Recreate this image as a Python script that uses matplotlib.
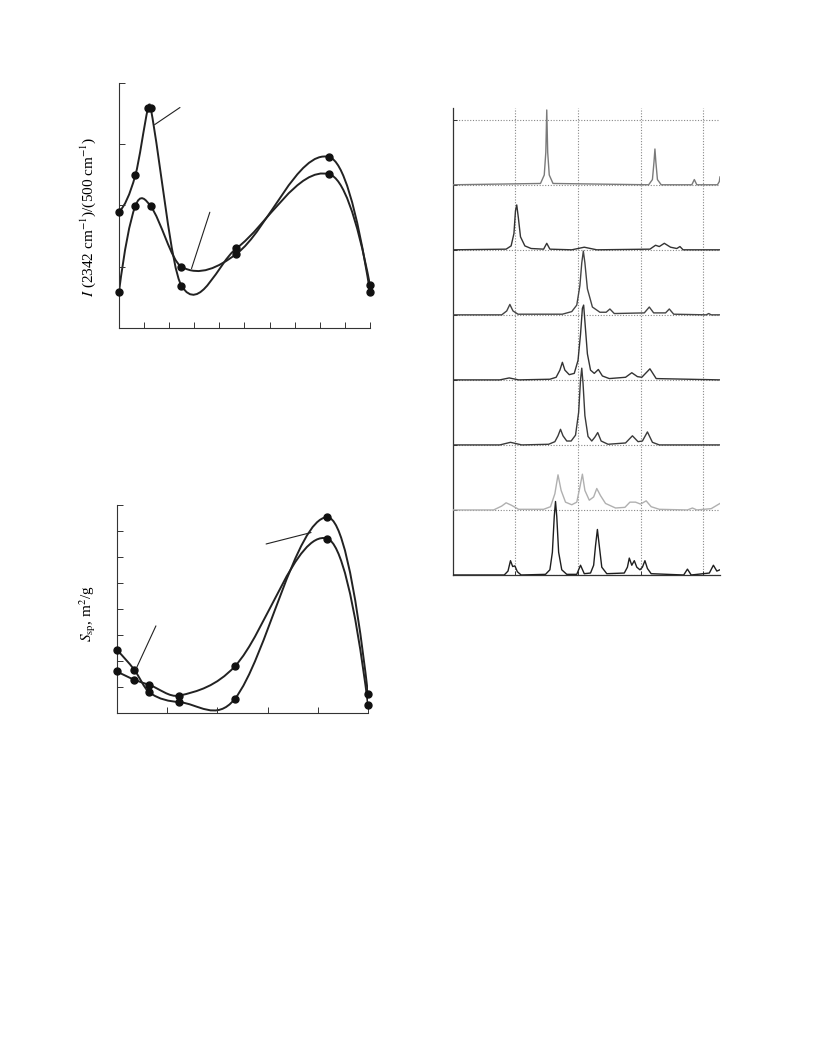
import matplotlib
matplotlib.use("Agg")
import matplotlib.pyplot as plt
import numpy as np
from matplotlib.path import Path
from matplotlib.patches import PathPatch

plt.rcParams["font.family"] = ["Liberation Serif", "DejaVu Serif"]
plt.rcParams["mathtext.fontset"] = "stix"

# ---- top-left panel: I(2342)/I(500) ----
top_x_a = [0, 0.65, 1.16, 1.26, 2.49, 4.68, 8.38, 10]
top_y_a = [1.90, 2.49, 3.60, 3.60, 0.69, 1.30, 2.51, 0.70]
top_x_b = [0, 0.65, 1.26, 2.49, 4.68, 8.38, 10]
top_y_b = [0.59, 1.99, 1.99, 1.00, 1.21, 2.79, 0.59]

# ---- bottom-left panel: S_sp ----
bot_x_c = [0, 0.69, 1.29, 2.48, 4.69, 8.37, 10]
bot_y_c = [2.41, 1.66, 0.79, 0.42, 0.54, 7.53, 0.72]
bot_x_d = [0, 0.69, 1.29, 2.48, 4.69, 8.37, 10]
bot_y_d = [1.60, 1.28, 1.08, 0.67, 1.79, 6.71, 0.32]

# ---- right panel: stacked diffraction patterns (bottom -> top) ----
spec0_x = [10, 18.2, 18.8, 19.2, 19.55, 19.9, 20.3, 20.9, 24.8, 25.5, 25.9, 26.2, 26.4, 26.6,
           26.9, 27.4, 28.2, 29.8, 30.4, 31.0, 32.0, 32.5, 32.8, 33.1, 33.4, 33.8, 34.6, 37.4,
           37.9, 38.2, 38.6, 39.0, 39.4, 39.9, 40.3, 40.7, 41.1, 41.7, 46.9, 47.5, 48.1, 51.0,
           51.65, 52.2, 52.7]
spec0_y = [0, 0, 0.06, 0.22, 0.13, 0.14, 0.05, 0, 0.01, 0.08, 0.35, 0.9, 1.13, 0.9,
           0.35, 0.08, 0.01, 0.01, 0.15, 0.02, 0.03, 0.15, 0.45, 0.70, 0.45, 0.12, 0.02, 0.03,
           0.12, 0.26, 0.15, 0.22, 0.12, 0.08, 0.12, 0.22, 0.1, 0.02, 0, 0.09, 0, 0.03,
           0.15, 0.06, 0.08]
spec1_x = [10, 16.5, 17.8, 18.5, 19.4, 20.5, 24.5, 25.6, 26.3, 26.8, 27.3, 28.0, 29.0, 29.8,
           30.3, 30.7, 31.1, 31.8, 32.5, 33.0, 33.6, 34.4, 36, 37.5, 38.3, 39.2, 40.0, 40.9,
           41.7, 43, 47.5, 48.3, 49, 51.3, 52.0, 52.7]
spec1_y = [0, 0, 0.06, 0.11, 0.07, 0.01, 0.01, 0.05, 0.25, 0.54, 0.3, 0.12, 0.08, 0.12,
           0.35, 0.55, 0.3, 0.15, 0.2, 0.33, 0.22, 0.1, 0.03, 0.04, 0.12, 0.12, 0.09, 0.14,
           0.05, 0.01, 0, 0.03, 0, 0.02, 0.06, 0.10]
spec2_x = [10, 17.5, 19.2, 21, 25.3, 26.3, 26.8, 27.2, 27.6, 28.2, 28.9, 29.6, 30.1, 30.4,
           30.6, 30.8, 31.1, 31.6, 32.2, 32.7, 33.15, 33.7, 34.8, 37.6, 38.7, 39.6, 40.3, 41.1,
           41.9, 43, 52.7]
spec2_y = [0, 0, 0.04, 0, 0.01, 0.05, 0.14, 0.24, 0.14, 0.06, 0.06, 0.15, 0.5, 1.0,
           1.18, 0.95, 0.45, 0.13, 0.06, 0.12, 0.19, 0.06, 0.01, 0.03, 0.14, 0.05, 0.06, 0.20,
           0.04, 0, 0]
spec3_x = [10, 17.5, 19.0, 20.5, 25.5, 26.5, 27.1, 27.5, 27.9, 28.6, 29.4, 30.0, 30.4, 30.7,
           30.9, 31.1, 31.5, 32.0, 32.6, 33.25, 33.9, 35, 37.6, 38.6, 39.5, 40.2, 41.5, 42.5, 52.7]
spec3_y = [0, 0, 0.03, 0, 0.01, 0.04, 0.15, 0.27, 0.15, 0.08, 0.1, 0.3, 0.7, 1.1,
           1.15, 0.9, 0.4, 0.15, 0.1, 0.16, 0.06, 0.02, 0.04, 0.11, 0.05, 0.04, 0.17, 0.02, 0]
spec4_x = [10, 17.8, 18.6, 19.1, 19.6, 20.4, 27.5, 29.0, 29.8, 30.3, 30.6, 30.85, 31.1, 31.5,
           32.3, 33.5, 34.5, 35.1, 35.8, 40.6, 41.4, 42.1, 44.0, 44.6, 45.3, 50.5, 50.9, 51.3, 52.7]
spec4_y = [0, 0, 0.06, 0.16, 0.06, 0.01, 0.01, 0.05, 0.15, 0.45, 0.8, 0.98, 0.8, 0.4,
           0.12, 0.04, 0.04, 0.09, 0.02, 0.03, 0.12, 0.03, 0.03, 0.09, 0.01, 0, 0.02, 0, 0]
spec5_x = [10, 18.5, 19.3, 19.75, 20.0, 20.2, 20.45, 20.8, 21.5, 22.5, 24.5, 25.0, 25.5, 29,
           31, 33, 41.5, 42.4, 43.0, 43.8, 44.8, 45.8, 46.3, 46.8, 52.7]
spec5_y = [0, 0.01, 0.06, 0.25, 0.6, 0.69, 0.5, 0.2, 0.06, 0.02, 0.01, 0.10, 0.01, 0.0,
           0.04, 0.0, 0.01, 0.07, 0.05, 0.10, 0.04, 0.02, 0.05, 0.0, 0.0]
spec6_x = [10, 24.0, 24.6, 24.85, 25.0, 25.15, 25.4, 26.0, 41.3, 41.9, 42.15, 42.3, 42.45,
           42.7, 43.3, 48.2, 48.6, 49.0, 52.3, 52.6, 52.7]
spec6_y = [0, 0.02, 0.15, 0.5, 1.15, 0.5, 0.15, 0.02, 0, 0.08, 0.35, 0.55, 0.35,
           0.08, 0, 0, 0.08, 0, 0, 0.05, 0.12]

spectra = [(spec0_x, spec0_y, "#1e1e1e"), (spec1_x, spec1_y, "#b0b0b0"),
           (spec2_x, spec2_y, "#3a3a3a"), (spec3_x, spec3_y, "#333333"),
           (spec4_x, spec4_y, "#444444"), (spec5_x, spec5_y, "#333333"),
           (spec6_x, spec6_y, "#7a7a7a")]


def smooth_path(xs, ys):
    # cubic bezier through the points, slopes taken from the neighbours
    x = np.asarray(xs, float)
    y = np.asarray(ys, float)
    n = len(x)
    m = np.zeros(n)
    for i in range(1, n - 1):
        m[i] = (y[i + 1] - y[i - 1]) / (x[i + 1] - x[i - 1])
    m[0] = 2 * (y[1] - y[0]) / (x[1] - x[0]) - m[1]
    m[-1] = 2 * (y[-1] - y[-2]) / (x[-1] - x[-2]) - m[-2]
    verts = [(x[0], y[0])]
    codes = [Path.MOVETO]
    for i in range(n - 1):
        h = (x[i + 1] - x[i]) / 3.0
        verts += [(x[i] + h, y[i] + m[i] * h), (x[i + 1] - h, y[i + 1] - m[i + 1] * h),
                  (x[i + 1], y[i + 1])]
        codes += [Path.CURVE4] * 3
    return Path(verts, codes)


def curve_panel(ax, series, ymax):
    for xs, ys in series:
        ax.add_patch(PathPatch(smooth_path(xs, ys), fill=False, lw=1.4, ec="#222222"))
        ax.plot(xs, ys, "o", ms=5, color="#111111", clip_on=False, zorder=3)
    ax.set_xlim(0, 10)
    ax.set_ylim(0, ymax)
    for s in ["top", "right"]:
        ax.spines[s].set_visible(False)
    for s in ["left", "bottom"]:
        ax.spines[s].set_linewidth(0.8)
        ax.spines[s].set_color("#333333")
    ax.tick_params(direction="in", length=4, width=0.7, colors="#333333",
                   labelleft=False, labelbottom=False)


def leader(ax, p0, p1):
    ax.annotate("", xy=p0, xytext=p1,
                arrowprops=dict(arrowstyle="-", lw=0.8, color="#222222", shrinkA=0, shrinkB=0))


fig = plt.figure(figsize=(8.16, 10.56), dpi=100)

ax1 = fig.add_axes([0.1458, 0.6894, 0.3076, 0.2320])
curve_panel(ax1, [(top_x_a, top_y_a), (top_x_b, top_y_b)], 4)
ax1.set_xticks(range(0, 11))
ax1.set_yticks(range(0, 5))
leader(ax1, (1.42, 3.32), (2.43, 3.60))
leader(ax1, (2.89, 0.97), (3.62, 1.89))
fig.text(0.108, 0.795, r"$I$ (2342 cm$^{-1}$)/(500 cm$^{-1}$)", rotation=90,
         ha="center", va="center", fontsize=11)

ax2 = fig.add_axes([0.1434, 0.3248, 0.3076, 0.1970])
curve_panel(ax2, [(bot_x_c, bot_y_c), (bot_x_d, bot_y_d)], 8)
ax2.set_xticks(range(0, 11, 2))
ax2.set_yticks(range(0, 9))
leader(ax2, (7.73, 6.94), (5.94, 6.50))
leader(ax2, (0.76, 1.70), (1.55, 3.35))
fig.text(0.107, 0.419, r"$S_{\rm sp}$, m$^2$/g", rotation=90,
         ha="center", va="center", fontsize=11)

ax3 = fig.add_axes([0.5551, 0.4555, 0.3272, 0.4422])
for k, (xs, ys, col) in enumerate(spectra):
    ax3.plot(xs, np.asarray(ys) + k, color=col, lw=1.0, zorder=3)
ax3.set_xlim(10, 52.7)
ax3.set_ylim(0, 7.18)
ax3.set_xticks([20, 30, 40, 50])
ax3.set_yticks(range(0, 8))
ax3.grid(True, ls=(0, (1, 1.5)), color="#888888", lw=0.8)
for s in ["top", "right"]:
    ax3.spines[s].set_visible(False)
for s in ["left", "bottom"]:
    ax3.spines[s].set_linewidth(0.9)
    ax3.spines[s].set_color("#333333")
ax3.tick_params(direction="in", length=3, width=0.7, colors="#333333",
                labelleft=False, labelbottom=False)

fig.savefig("out.png", dpi=100)
